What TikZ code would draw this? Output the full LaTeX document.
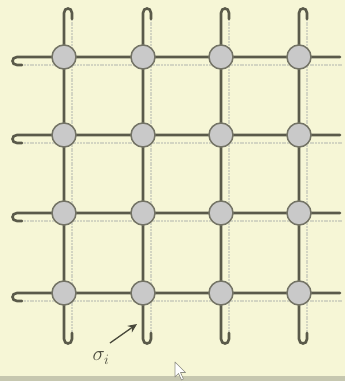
\documentclass[tikz,border=0pt]{standalone}
\usetikzlibrary{arrows.meta}
\definecolor{bg}{HTML}{F6F6D6}
\definecolor{ln}{HTML}{5A5A4A}
\definecolor{faint}{HTML}{D3D5C2}
\definecolor{spinfill}{HTML}{C9C9C9}
\definecolor{band}{HTML}{C6C7AF}
\begin{document}
\begin{tikzpicture}[x=1pt,y=-1pt,
  bond/.style={draw=ln,line width=2.6pt,line cap=round},
  ghost/.style={draw=faint,line width=1.6pt,dash pattern=on 2pt off 0.8pt},
  spinnode/.style={circle,fill=spinfill,draw=ln!85,line width=1.5pt,minimum size=24pt,inner sep=0pt},
  lab/.style={inner sep=0pt,font=\fontsize{20}{24}\selectfont,text=ln!80!black}]
\fill[bg] (0,0) rectangle (345,381);
\useasboundingbox (0,0) rectangle (345,381);
\fill[band] (0,376) rectangle (345,381);
% faint return lines
\foreach \x in {64,143,221,299} {
  \draw[ghost] (\x+8,16) -- (\x+8,334);
}
\foreach \y in {57,135,213,293} {
  \draw[ghost] (24,\y+8) -- (343,\y+8);
}
% bonds with hooks
\foreach \x in {64,143,221,299} {
  \draw[bond] (\x+8,19) -- (\x+8,13) .. controls (\x+8,7) and (\x,7) .. (\x,13)
    -- (\x,339) .. controls (\x,345) and (\x+8,345) .. (\x+8,339) -- (\x+8,333);
}
\foreach \y in {57,135,213,293} {
  \draw[bond] (340,\y) -- (17,\y) .. controls (11,\y) and (11,\y+8) .. (17,\y+8) -- (22,\y+8);
}
% spins
\foreach \x [count=\i] in {64,143,221,299} {
  \foreach \y [count=\j] in {57,135,213,293} {
    \node[spinnode] (s\i\j) at (\x,\y) {};
  }
}
% label
\node[lab] (sig) at (101,358) {$\sigma_i$};
\coordinate (tip) at (137,324);
\draw[ln!80!black,line width=1.3pt,-{Stealth[length=9pt,width=8pt]}] ([shift={(9,-15)}]sig.center) -- (tip);
% cursor
\draw[fill=white,draw=ln!70,line width=0.6pt,line join=round]
  (175,362) -- (175,377) -- (178.5,373.5) -- (181.5,380) -- (183.5,379) -- (180.5,372.5) -- (185.5,372.5) -- cycle;
\end{tikzpicture}
\end{document}
